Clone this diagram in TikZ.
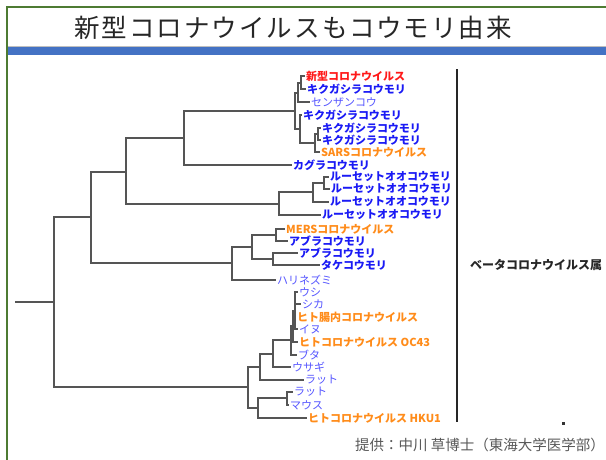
\documentclass[tikz,border=0pt]{standalone}
\usepackage{fontspec}
\newfontfamily\jp{Noto Sans CJK JP}
\newfontfamily\jptitle[LetterSpace=8]{Noto Sans CJK JP}
\definecolor{frame}{HTML}{4E7B32}
\definecolor{bar}{HTML}{4472C4}
\definecolor{batblue}{HTML}{1A1AF5}
\definecolor{anblue}{HTML}{5555FF}
\definecolor{virred}{HTML}{FF1A1A}
\definecolor{virorange}{HTML}{FF8C1A}
\definecolor{treegray}{HTML}{555555}
\definecolor{footgray}{HTML}{595959}
\tikzset{
  tree/.style={draw=treegray, line width=1.2pt, line cap=rect},
  leaf/.style={anchor=west, inner xsep=2pt, inner ysep=0pt, font=\jp\fontsize{11}{12}\selectfont},
  bat/.style={leaf, text=batblue, font=\jp\bfseries\fontsize{11}{12}\selectfont},
  animal/.style={leaf, text=anblue},
  virus/.style={leaf, text=virorange, font=\jp\bfseries\fontsize{11}{12}\selectfont},
  newvirus/.style={leaf, text=virred, font=\jp\bfseries\fontsize{11}{12}\selectfont},
}
\begin{document}
\begin{tikzpicture}[x=1pt,y=-1pt]
\clip (0,0) rectangle (606,459);
\fill[white] (0,0) rectangle (606,459);
% frame and title bar
\draw[frame, line width=2pt] (7,460) -- (7,7) -- (607,7);
\draw[gray!50, line width=0.6pt] (8,46) -- (606,46);
\fill[bar] (8,47) rectangle (606,55);
\node[text=black!85, font=\jptitle\fontsize{25.5}{28}\selectfont, inner sep=0pt] (title) at (293,28) {新型コロナウイルスもコウモリ由来};

% leaves
\node[newvirus] (new) at (304,76) {新型コロナウイルス};
\node[bat] (kiku1) at (305,89) {キクガシラコウモリ};
\node[animal] (senzan) at (309,102) {センザンコウ};
\node[bat] (kiku2) at (301,115) {キクガシラコウモリ};
\node[bat] (kiku3) at (320,128) {キクガシラコウモリ};
\node[bat] (kiku4) at (320,140) {キクガシラコウモリ};
\node[virus] (sars) at (319,152) {SARSコロナウイルス};
\node[bat] (kagura) at (291,165) {カグラコウモリ};
\node[bat] (rou1) at (328,177) {ルーセットオオコウモリ};
\node[bat] (rou2) at (329,189) {ルーセットオオコウモリ};
\node[bat] (rou3) at (328,202) {ルーセットオオコウモリ};
\node[bat] (rou4) at (320,215) {ルーセットオオコウモリ};
\node[virus] (mers) at (284,229) {MERSコロナウイルス};
\node[bat] (abura1) at (287,241) {アブラコウモリ};
\node[bat] (abura2) at (297,253) {アブラコウモリ};
\node[bat] (take) at (319,265) {タケコウモリ};
\node[animal] (hari) at (275,280) {ハリネズミ};
\node[animal] (ushi) at (297,292) {ウシ};
\node[animal] (shika) at (300,304) {シカ};
\node[virus] (hcho) at (295,317) {ヒト腸内コロナウイルス};
\node[animal] (inu) at (297,329) {イヌ};
\node[virus] (oc43) at (297,342) {ヒトコロナウイルス OC43};
\node[animal] (buta) at (296,355) {ブタ};
\node[animal] (usagi) at (290,367) {ウサギ};
\node[animal] (rat1) at (303,380) {ラット};
\node[animal] (rat2) at (292,392) {ラット};
\node[animal] (mouse) at (288,405) {マウス};
\node[virus] (hku1) at (306,418) {ヒトコロナウイルス HKU1};

% internal nodes
\coordinate (rootstart) at (16,302);
\coordinate (n0) at (54,302);
\coordinate (n1) at (91,217);
\coordinate (n2) at (126,172);
\coordinate (n3) at (184,138);
\coordinate (A) at (295,111);
\coordinate (B) at (298,93);
\coordinate (D) at (301,83);
\coordinate (C) at (300,129);
\coordinate (E) at (315,143);
\coordinate (F) at (318,134);
\coordinate (n6) at (279,204);
\coordinate (G) at (313,192);
\coordinate (H) at (324,183);
\coordinate (n9) at (232,263);
\coordinate (I) at (252,247);
\coordinate (J) at (276,235);
\coordinate (K) at (273,259);
\coordinate (n14) at (248,387);
\coordinate (M) at (260,367);
\coordinate (O) at (273,354);
\coordinate (P) at (291,340);
\coordinate (Q) at (293,326);
\coordinate (R) at (295,311);
\coordinate (N) at (258,408);
\coordinate (S) at (287,398);

% edges
\draw[tree] (rootstart) -- (n0);
\draw[tree] (n0) |- (n1);
\draw[tree] (n0) |- (n14);
\draw[tree] (n1) |- (n2);
\draw[tree] (n1) |- (n9);
\draw[tree] (n2) |- (n3);
\draw[tree] (n2) |- (n6);
\draw[tree] (n3) |- (A);
\draw[tree] (n3) |- (kagura.west);
\draw[tree] (A) |- (B);
\draw[tree] (A) |- (C);
\draw[tree] (B) |- (D);
\draw[tree] (B) |- (senzan.west);
\draw[tree] (D) |- (new.west);
\draw[tree] (D) |- (kiku1.west);
\draw[tree] (C) |- (kiku2.west);
\draw[tree] (C) |- (E);
\draw[tree] (E) |- (F);
\draw[tree] (E) |- (sars.west);
\draw[tree] (F) |- (kiku3.west);
\draw[tree] (F) |- (kiku4.west);
\draw[tree] (n6) |- (G);
\draw[tree] (n6) |- (rou4.west);
\draw[tree] (G) |- (H);
\draw[tree] (G) |- (rou3.west);
\draw[tree] (H) |- (rou1.west);
\draw[tree] (H) |- (rou2.west);
\draw[tree] (n9) |- (I);
\draw[tree] (n9) |- (hari.west);
\draw[tree] (I) |- (J);
\draw[tree] (I) |- (K);
\draw[tree] (J) |- (mers.west);
\draw[tree] (J) |- (abura1.west);
\draw[tree] (K) |- (abura2.west);
\draw[tree] (K) |- (take.west);
\draw[tree] (n14) |- (M);
\draw[tree] (n14) |- (N);
\draw[tree] (M) |- (O);
\draw[tree] (M) |- (rat1.west);
\draw[tree] (O) |- (P);
\draw[tree] (O) |- (usagi.west);
\draw[tree] (P) |- (Q);
\draw[tree] (P) |- (buta.west);
\draw[tree] (Q) |- (R);
\draw[tree] (Q) |- (oc43.west);
\draw[tree] (R) |- (ushi.west);
\draw[tree] (R) |- (shika.west);
\draw[tree] (R) |- (hcho.west);
\draw[tree] (R) |- (inu.west);
\draw[tree] (N) |- (S);
\draw[tree] (N) |- (hku1.west);
\draw[tree] (S) |- (rat2.west);
\draw[tree] (S) |- (mouse.west);

% bracket line and group label
\coordinate (bartop) at (457,69);
\coordinate (barbot) at (457,422);
\draw[black!85, line width=1.8pt] (bartop) -- (barbot);
\node[anchor=west, inner sep=0pt, font=\jp\bfseries\fontsize{12}{14}\selectfont, text=black!85] (beta) at (470,265) {ベータコロナウイルス属};
\fill[black!80] (562,422) rectangle (564.5,424.5);

% footer
\node[anchor=east, inner sep=0pt, font=\jp\fontsize{14.5}{16}\selectfont, text=footgray] (credit) at (605,445) {提供：中川 草博士（東海大学医学部）};
\end{tikzpicture}
\end{document}
